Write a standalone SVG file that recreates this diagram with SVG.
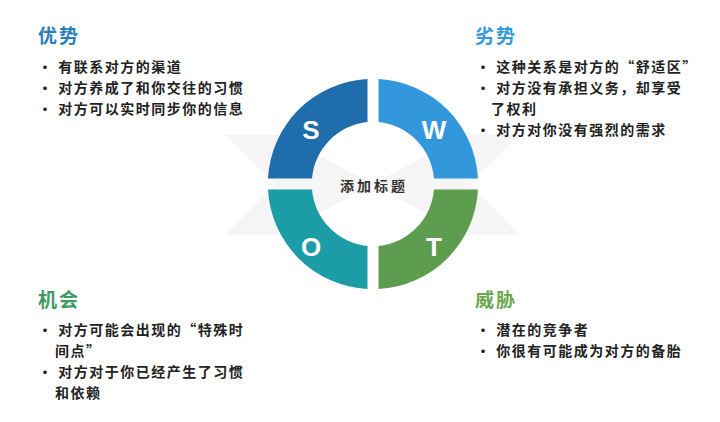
<svg xmlns="http://www.w3.org/2000/svg" width="720" height="422" viewBox="0 0 720 422">
<style>
.t{font-family:"Noto Sans CJK SC","Liberation Sans",sans-serif;font-weight:bold}
.h{font-size:19px;letter-spacing:2px}
.b{font-size:14px;fill:#222;letter-spacing:1.5px}
.l{font-family:"Liberation Sans",Arial,sans-serif;font-weight:bold;font-size:26px;fill:#fff;text-anchor:middle}
</style>
<rect width="720" height="422" fill="#fff"/>
<g id="bg" fill="#f5f5f5">
<polygon points="225,135 280,135 373,184 280,235 225,235 275,184"/>
<polygon points="520,135 465,135 373,184 465,235 520,235 470,184"/>
</g>
<g id="S"><path d="M367.5,79 A105,105 0 0 0 268,178.5 L312,178.5 A62,62 0 0 1 367.5,122 Z" fill="#1f6dab"/><text class="l" x="311" y="139">S</text></g>
<g id="W"><path d="M378.5,79 A105,105 0 0 1 478,178.5 L434,178.5 A62,62 0 0 0 378.5,122 Z" fill="#3297db"/><text class="l" x="434" y="139">W</text></g>
<g id="O"><path d="M367.5,289 A105,105 0 0 1 268,189.5 L312,189.5 A62,62 0 0 0 367.5,246 Z" fill="#1b9ca7"/><text class="l" x="311" y="256">O</text></g>
<g id="T"><path d="M378.5,289 A105,105 0 0 0 478,189.5 L434,189.5 A62,62 0 0 1 378.5,246 Z" fill="#5e9d4f"/><text class="l" x="434" y="256">T</text></g>
<g id="center"><text class="t" x="374" y="191" font-size="14" fill="#333" text-anchor="middle" letter-spacing="3">添加标题</text></g>
<g id="s-text" class="t">
<text class="h" x="38" y="43" fill="#2a7dbd">优势</text>
<text class="b" x="38" y="72">·  有联系对方的渠道</text>
<text class="b" x="38" y="93">·  对方养成了和你交往的习惯</text>
<text class="b" x="38" y="114">·  对方可以实时同步你的信息</text>
</g>
<g id="w-text" class="t">
<text class="h" x="475" y="43" fill="#3498db">劣势</text>
<text class="b" x="476" y="72">· 这种关系是对方的“舒适区”</text>
<text class="b" x="476" y="93">· 对方没有承担义务，却享受</text>
<text class="b" x="491" y="114">了权利</text>
<text class="b" x="476" y="135">· 对方对你没有强烈的需求</text>
</g>
<g id="o-text" class="t">
<text class="h" x="38" y="307" fill="#3e9a62">机会</text>
<text class="b" x="38" y="335">·  对方可能会出现的“特殊时</text>
<text class="b" x="55" y="356">间点”</text>
<text class="b" x="38" y="377">·  对方对于你已经产生了习惯</text>
<text class="b" x="55" y="398">和依赖</text>
</g>
<g id="t-text" class="t">
<text class="h" x="475" y="307" fill="#6aa84f">威胁</text>
<text class="b" x="476" y="335">· 潜在的竞争者</text>
<text class="b" x="476" y="356">· 你很有可能成为对方的备胎</text>
</g>
<g id="connectors"/>
</svg>
